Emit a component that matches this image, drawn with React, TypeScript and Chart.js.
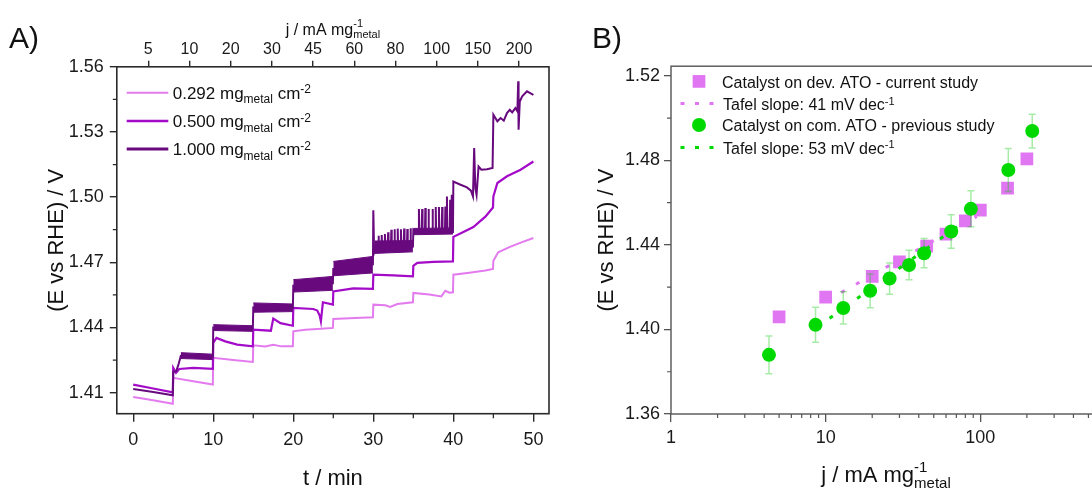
import React, { useEffect, useRef } from 'react';
import { Chart, registerables } from 'chart.js';

Chart.register(...registerables);

const FONT = '"Liberation Sans", Arial, Helvetica, sans-serif';

// ---------------- Panel A data ----------------
const loadings = ['0.292', '0.500', '1.000'];
const colorsA = ['#E37BEF', '#A40BC9', '#680A7E'];

const light292: [number, number][] = [
  [0, 1.4080], [2.5, 1.4065], [4.95, 1.4049],
  [5, 1.4168], [7.5, 1.4152], [9.95, 1.4137],
  [10, 1.4260], [12.5, 1.4250], [14.95, 1.4241],
  [15, 1.4318], [16.5, 1.4312], [17.5, 1.4320], [18.5, 1.4313], [19.95, 1.4313],
  [20, 1.4382], [21.5, 1.4390], [23, 1.4393], [24.95, 1.4398],
  [25, 1.4439], [27, 1.4442], [28.5, 1.4445], [29.95, 1.4447],
  [30, 1.4505], [31.5, 1.4502], [32.1, 1.4494], [33, 1.4508], [34.95, 1.4516],
  [35, 1.4559], [37, 1.4552], [38.5, 1.4543], [39, 1.4569], [39.5, 1.4560], [39.95, 1.4562],
  [40, 1.4643], [42, 1.4652], [44, 1.4662], [44.95, 1.4669],
  [45, 1.4707], [45.6, 1.4746], [47, 1.4770], [48.5, 1.4792], [50, 1.4812],
];

const mid500: [number, number][] = [
  [0, 1.4137], [2.5, 1.4119], [4.95, 1.4101],
  [5, 1.4214], [5.35, 1.4191], [5.75, 1.4209], [7.5, 1.4214], [9.95, 1.4210],
  [10, 1.4329], [10.4, 1.4352], [11.5, 1.4336], [13, 1.4321], [14.95, 1.4313],
  [15, 1.4390], [17.2, 1.4385], [17.5, 1.4441], [18.4, 1.4420], [19.95, 1.4408],
  [20, 1.4490], [22.5, 1.4485], [23.0, 1.4478], [23.3, 1.4455], [23.45, 1.4428], [23.7, 1.4516], [24.95, 1.4505],
  [25, 1.4566], [27.5, 1.4580], [29.95, 1.4578],
  [30, 1.4643], [32.5, 1.4640], [34.95, 1.4635],
  [35, 1.4684], [35.5, 1.4697], [37.5, 1.4702], [39.95, 1.4704],
  [40, 1.4817], [41, 1.4835], [42.5, 1.4862], [44, 1.4910], [44.95, 1.4952],
  [45, 1.5003], [45.5, 1.5065], [46.7, 1.5096], [48.4, 1.5126], [50, 1.5164],
];

const dark1000: [number, number][] = [
  [0, 1.4117], [2.5, 1.4103], [4.95, 1.4088],
  [5, 1.4195], [5.4, 1.4200], [5.7, 1.4235], [5.95, 1.4270], [9.95, 1.4264],
  [10, 1.4400], [14.95, 1.4395],
  [15, 1.4492], [19.95, 1.4490],
  [20, 1.4592], [24.95, 1.4603],
  [25, 1.4670], [29.95, 1.4690],
  [30, 1.4939], [30.1, 1.4745], [30.3, 1.4770],
  [30.6, 1.4770], [30.65, 1.4822], [30.7, 1.4770],
  [31.0, 1.4770], [31.05, 1.4826], [31.1, 1.4770],
  [31.4, 1.4770], [31.45, 1.4830], [31.5, 1.4770],
  [31.8, 1.4770], [31.85, 1.4838], [31.9, 1.4770],
  [32.2, 1.4770], [32.25, 1.4850], [32.3, 1.4770],
  [32.6, 1.4770], [32.65, 1.4852], [32.7, 1.4770],
  [33.0, 1.4770], [33.05, 1.4855], [33.1, 1.4770],
  [33.4, 1.4770], [33.45, 1.4852], [33.5, 1.4770],
  [33.8, 1.4770], [33.85, 1.4856], [33.9, 1.4770],
  [34.2, 1.4770], [34.25, 1.4853], [34.3, 1.4770],
  [34.6, 1.4770], [34.65, 1.4857], [34.7, 1.4770],
  [34.95, 1.4772],
  [35, 1.4850], [35.3, 1.4840],
  [35.65, 1.4840], [35.7, 1.4945], [35.75, 1.4840],
  [36.05, 1.4840], [36.1, 1.4945], [36.15, 1.4840],
  [36.45, 1.4840], [36.5, 1.4950], [36.55, 1.4840],
  [36.85, 1.4840], [36.9, 1.4945], [36.95, 1.4840],
  [37.35, 1.4840], [37.4, 1.4945], [37.45, 1.4840],
  [37.75, 1.4840], [37.8, 1.4955], [37.85, 1.4840],
  [38.15, 1.4840], [38.2, 1.4955], [38.25, 1.4840],
  [38.55, 1.4840], [38.6, 1.4955], [38.65, 1.4840],
  [38.95, 1.4840], [39.0, 1.4957], [39.05, 1.4840],
  [39.15, 1.4840], [39.2, 1.5003], [39.25, 1.4840],
  [39.55, 1.4840], [39.6, 1.4988], [39.65, 1.4840],
  [39.75, 1.4840], [39.8, 1.5011], [39.85, 1.4840],
  [39.95, 1.4845],
  [40, 1.5072], [40.9, 1.5057], [41.7, 1.5045], [42.2, 1.5030], [42.45, 1.5003], [42.6, 1.5226],
  [42.75, 1.5040], [42.9, 1.5010], [43.15, 1.5141], [43.5, 1.5126], [44.2, 1.5128], [44.9, 1.5134],
  [45, 1.5379], [45.5, 1.5349], [45.9, 1.5364], [46.3, 1.5352], [46.7, 1.5387], [47.05, 1.5402],
  [47.35, 1.5390], [47.75, 1.5410], [48.0, 1.5395], [48.1, 1.5533], [48.15, 1.5310], [48.3, 1.5440],
  [48.6, 1.5464], [49.2, 1.5487], [49.6, 1.5479], [50, 1.5471],
];

// oscillation bands of the 1.000 mg sample: [t, upper edge, lower edge]
const dark1000Band: [number, number, number][][] = [
  [[5.95, 1.4284, 1.4257], [9.95, 1.4277, 1.4252]],
  [[10, 1.4413, 1.4386], [14.95, 1.4408, 1.4382]],
  [[15, 1.4513, 1.4470], [19.95, 1.4508, 1.4473]],
  [[20, 1.4620, 1.4563], [24.95, 1.4635, 1.4571]],
  [[25, 1.4704, 1.4638], [29.95, 1.4727, 1.4651]],
  [[30.15, 1.4798, 1.4741], [34.95, 1.4800, 1.4748]],
  [[35, 1.4856, 1.4827], [39.95, 1.4858, 1.4830]],
];

const yTicksA = [1.41, 1.44, 1.47, 1.5, 1.53, 1.56];
const yMinorA = [1.425, 1.455, 1.485, 1.515, 1.545];
const xTicksA = [0, 10, 20, 30, 40, 50];
const xMinorA = [5, 15, 25, 35, 45];
const topLabelsA = ['5', '10', '20', '30', '45', '60', '80', '100', '150', '200'];

// ---------------- Panel B data ----------------
const devJ = [5, 10, 20, 30, 45, 60, 80, 100, 150, 200];
const devE = [1.4060, 1.4153, 1.4251, 1.4320, 1.4395, 1.4451, 1.4514, 1.4565, 1.4669, 1.4807];
const comJ = [4.3, 8.6, 13.0, 19.4, 25.9, 34.6, 43.3, 64.8, 86.9, 151.7, 216.6];
const comE = [1.3880, 1.4022, 1.4102, 1.4183, 1.4241, 1.4305, 1.4361, 1.4464, 1.4571, 1.4755, 1.4939];
const comErr = [0.0089, 0.0083, 0.0076, 0.0080, 0.0074, 0.0070, 0.0069, 0.0079, 0.0085, 0.0102, 0.0080];
const tafelDevJ = [12.6, 95];
const tafelDevE = [1.4175, 1.4535];
const tafelComJ = [10.6, 76.4];
const tafelComE = [1.4053, 1.4504];

const yTicksB = [1.36, 1.4, 1.44, 1.48, 1.52];
const yMinorB = [1.38, 1.42, 1.46, 1.5];
const xTicksB = [1, 10, 100, 1000];
const xMinorB = [2, 3, 4, 5, 6, 7, 8, 9, 20, 30, 40, 50, 60, 70, 80, 90, 200, 300, 400, 500, 600, 700, 800, 900];

const PINK = '#E176F3';
const GREEN = '#00D900';

type Part = { t: string; kind?: 'sup' | 'sub' | 'stack'; t2?: string };

function drawRich(
  ctx: CanvasRenderingContext2D, parts: Part[], x: number, y: number,
  size: number, small: number, align: 'left' | 'center', supOff: number, subOff: number,
) {
  const widths = parts.map((p) => {
    if (!p.kind) { ctx.font = `${size}px ${FONT}`; return ctx.measureText(p.t).width; }
    ctx.font = `${small}px ${FONT}`;
    if (p.kind === 'stack') return Math.max(ctx.measureText(p.t).width, ctx.measureText(p.t2 || '').width);
    return ctx.measureText(p.t).width;
  });
  const total = widths.reduce((a, b) => a + b, 0);
  let cx = align === 'center' ? x - total / 2 : x;
  ctx.textAlign = 'left';
  ctx.textBaseline = 'alphabetic';
  parts.forEach((p, i) => {
    if (!p.kind) {
      ctx.font = `${size}px ${FONT}`;
      ctx.fillText(p.t, cx, y);
    } else {
      ctx.font = `${small}px ${FONT}`;
      if (p.kind === 'sup') ctx.fillText(p.t, cx, y - supOff);
      else if (p.kind === 'sub') ctx.fillText(p.t, cx, y + subOff);
      else { ctx.fillText(p.t, cx, y - supOff); ctx.fillText(p.t2 || '', cx, y + subOff); }
    }
    cx += widths[i];
  });
}

const toXY = (pts: [number, number][]) => pts.map(([x, y]) => ({ x, y }));

function bandData(which: 1 | 2) {
  const out: { x: number; y: number | null }[] = [];
  dark1000Band.forEach((seg, i) => {
    if (i > 0) out.push({ x: seg[0][0], y: null });
    seg.forEach((p) => out.push({ x: p[0], y: p[which] }));
  });
  return out;
}

const AX_A = '#2a2a2a';
const AX_B = '#555555';

const panelAPlugin = {
  id: 'panelA',
  afterDraw(chart: any) {
    const { ctx, chartArea: ca, scales } = chart;
    ctx.save();
    ctx.strokeStyle = AX_A;
    ctx.lineWidth = 1.6;
    ctx.strokeRect(ca.left, ca.top, ca.right - ca.left, ca.bottom - ca.top);
    ctx.lineWidth = 1.3;
    ctx.beginPath();
    yMinorA.forEach((v) => { const p = scales.y.getPixelForValue(v); ctx.moveTo(ca.left, p); ctx.lineTo(ca.left - 4, p); });
    xMinorA.forEach((v) => { const p = scales.x.getPixelForValue(v); ctx.moveTo(p, ca.bottom); ctx.lineTo(p, ca.bottom + 4.5); });
    ctx.stroke();

    // legend
    const rows = [92.7, 121, 149];
    const lw = [2, 2.4, 2.8];
    rows.forEach((ry, i) => {
      ctx.strokeStyle = colorsA[i];
      ctx.lineWidth = lw[i];
      ctx.beginPath();
      ctx.moveTo(126.7, ry);
      ctx.lineTo(168.3, ry);
      ctx.stroke();
      ctx.fillStyle = '#111';
      drawRich(ctx, [{ t: `${loadings[i]} mg` }, { t: 'metal', kind: 'sub' }, { t: ' cm' }, { t: '-2', kind: 'sup' }],
        172.7, ry + 6, 17, 12, 'left', 5.5, 4.5);
    });

    ctx.fillStyle = '#111';
    ctx.font = `30px ${FONT}`;
    ctx.textAlign = 'left';
    ctx.textBaseline = 'alphabetic';
    ctx.fillText('A)', 9, 48);

    ctx.font = `22px ${FONT}`;
    ctx.textAlign = 'center';
    ctx.fillText('t / min', (ca.left + ca.right) / 2, 485);

    ctx.save();
    ctx.translate(57, (ca.top + ca.bottom) / 2);
    ctx.rotate(-Math.PI / 2);
    ctx.textAlign = 'center';
    ctx.textBaseline = 'middle';
    ctx.font = `22px ${FONT}`;
    ctx.fillText('(E vs RHE) / V', 0, 0);
    ctx.restore();

    drawRich(ctx, [{ t: 'j / mA mg' }, { t: '-1', kind: 'stack', t2: 'metal' }],
      (ca.left + ca.right) / 2, 34.5, 16, 11, 'center', 7.5, 3);
    ctx.restore();
  },
};

const panelBPlugin = {
  id: 'panelB',
  beforeDatasetDraw(chart: any, args: any) {
    if (args.index !== 3) return;
    const { ctx, scales } = chart;
    ctx.save();
    ctx.strokeStyle = 'rgba(0,200,0,0.35)';
    ctx.lineWidth = 1.5;
    ctx.beginPath();
    comJ.forEach((j, i) => {
      const x = scales.x.getPixelForValue(j);
      const y1 = scales.y.getPixelForValue(comE[i] + comErr[i]);
      const y2 = scales.y.getPixelForValue(comE[i] - comErr[i]);
      ctx.moveTo(x, y1); ctx.lineTo(x, y2);
      ctx.moveTo(x - 3.5, y1); ctx.lineTo(x + 3.5, y1);
      ctx.moveTo(x - 3.5, y2); ctx.lineTo(x + 3.5, y2);
    });
    ctx.stroke();
    ctx.restore();
  },
  afterDraw(chart: any) {
    const { ctx, chartArea: ca, scales } = chart;
    ctx.save();
    ctx.strokeStyle = AX_B;
    ctx.lineWidth = 1.4;
    ctx.strokeRect(ca.left, ca.top, ca.right - ca.left, ca.bottom - ca.top);
    ctx.lineWidth = 1.2;
    ctx.beginPath();
    yMinorB.forEach((v) => { const p = scales.y.getPixelForValue(v); ctx.moveTo(ca.left, p); ctx.lineTo(ca.left - 4, p); });
    xMinorB.forEach((v) => { const p = scales.x.getPixelForValue(v); ctx.moveTo(p, ca.bottom); ctx.lineTo(p, ca.bottom + 4); });
    ctx.stroke();

    // legend
    ctx.fillStyle = PINK;
    const s = 12.7;
    ctx.fillRect(139 - s / 2, 81.4 - s / 2, s, s);
    ctx.fillStyle = GREEN;
    ctx.beginPath();
    ctx.arc(139, 125, 7, 0, Math.PI * 2);
    ctx.fill();
    ctx.lineWidth = 3;
    ctx.setLineDash([4, 10.5]);
    ctx.strokeStyle = PINK;
    ctx.beginPath(); ctx.moveTo(120.5, 103.5); ctx.lineTo(159, 103.5); ctx.stroke();
    ctx.strokeStyle = GREEN;
    ctx.beginPath(); ctx.moveTo(120.5, 147.6); ctx.lineTo(159, 147.6); ctx.stroke();
    ctx.setLineDash([]);

    ctx.fillStyle = '#111';
    drawRich(ctx, [{ t: 'Catalyst on dev. ATO - current study' }], 162, 87.5, 16, 11, 'left', 5.5, 4);
    drawRich(ctx, [{ t: 'Tafel slope: 41 mV dec' }, { t: '-1', kind: 'sup' }], 163, 110, 16, 11, 'left', 5.5, 4);
    drawRich(ctx, [{ t: 'Catalyst on com. ATO - previous study' }], 162, 131, 16, 11, 'left', 5.5, 4);
    drawRich(ctx, [{ t: 'Tafel slope: 53 mV dec' }, { t: '-1', kind: 'sup' }], 163, 153.5, 16, 11, 'left', 5.5, 4);

    ctx.font = `30px ${FONT}`;
    ctx.textAlign = 'left';
    ctx.textBaseline = 'alphabetic';
    ctx.fillText('B)', 32, 48);

    ctx.save();
    ctx.translate(47, (ca.top + ca.bottom) / 2);
    ctx.rotate(-Math.PI / 2);
    ctx.textAlign = 'center';
    ctx.textBaseline = 'middle';
    ctx.font = `22px ${FONT}`;
    ctx.fillText('(E vs RHE) / V', 0, 0);
    ctx.restore();

    drawRich(ctx, [{ t: 'j / mA mg' }, { t: '-1', kind: 'stack', t2: 'metal' }], 326, 481.5, 22, 15, 'center', 10, 6);
    ctx.restore();
  },
};

function tickFont(size: number) {
  return { family: FONT, size };
}

export default function App() {
  const refA = useRef<HTMLCanvasElement>(null);
  const refB = useRef<HTMLCanvasElement>(null);

  useEffect(() => {
    const gridA = (len: number) => ({ drawOnChartArea: false, drawTicks: true, tickLength: len, color: AX_A, lineWidth: 1.4 });
    const chartA = new Chart(refA.current as HTMLCanvasElement, {
      type: 'line',
      data: {
        datasets: [
          { data: toXY(light292), borderColor: colorsA[0], borderWidth: 2, pointRadius: 0, order: 5, xAxisID: 'x', yAxisID: 'y' },
          { data: toXY(mid500), borderColor: colorsA[1], borderWidth: 2.2, pointRadius: 0, order: 4, xAxisID: 'x', yAxisID: 'y' },
          { data: bandData(1), borderColor: colorsA[2], backgroundColor: colorsA[2], borderWidth: 1, pointRadius: 0, fill: '+1', order: 3, xAxisID: 'x', yAxisID: 'y' },
          { data: bandData(2), borderColor: colorsA[2], backgroundColor: colorsA[2], borderWidth: 1, pointRadius: 0, fill: false, order: 2, xAxisID: 'x', yAxisID: 'y' },
          { data: toXY(dark1000), borderColor: colorsA[2], borderWidth: 2, pointRadius: 0, order: 1, xAxisID: 'x', yAxisID: 'y' },
        ] as any,
      },
      options: {
        animation: false,
        responsive: false,
        devicePixelRatio: 1,
        events: [],
        layout: { padding: { left: 0, right: 11, top: 0, bottom: 0 } },
        plugins: { legend: { display: false }, tooltip: { enabled: false } },
        scales: {
          x: {
            type: 'linear', position: 'bottom', min: -2.05, max: 51.95,
            afterBuildTicks: (s: any) => { s.ticks = xTicksA.map((v) => ({ value: v })); },
            afterFit: (s: any) => { s.height = 489 - 413.7; },
            ticks: { font: tickFont(18), color: '#1a1a1a', padding: 8, maxRotation: 0, autoSkip: false, callback: (v: any) => String(v) },
            grid: gridA(8),
            border: { display: false },
          },
          x2: {
            type: 'linear', position: 'top', min: -0.765, max: 9.726,
            afterBuildTicks: (s: any) => { s.ticks = topLabelsA.map((_, i) => ({ value: i })); },
            afterFit: (s: any) => { s.height = 66.8; },
            ticks: { font: tickFont(16), color: '#1a1a1a', padding: 2, maxRotation: 0, autoSkip: false, callback: (v: any) => topLabelsA[v] },
            grid: gridA(6),
            border: { display: false },
          },
          y: {
            type: 'linear', position: 'left', min: 1.4003, max: 1.56,
            afterBuildTicks: (s: any) => { s.ticks = yTicksA.map((v) => ({ value: v })); },
            afterFit: (s: any) => { s.width = 116.8; },
            ticks: { font: tickFont(18), color: '#1a1a1a', padding: 6, autoSkip: false, callback: (v: any) => Number(v).toFixed(2) },
            grid: gridA(7),
            border: { display: false },
          },
        },
      } as any,
      plugins: [panelAPlugin],
    });

    const gridB = (len: number) => ({ drawOnChartArea: false, drawTicks: true, tickLength: len, color: AX_B, lineWidth: 1.3 });
    const chartB = new Chart(refB.current as HTMLCanvasElement, {
      type: 'scatter',
      data: {
        datasets: [
          { data: devJ.map((x, i) => ({ x, y: devE[i] })), pointStyle: 'rect', pointRadius: 9, backgroundColor: PINK, borderWidth: 0, order: 4 },
          { data: tafelDevJ.map((x, i) => ({ x, y: tafelDevE[i] })), showLine: true, pointRadius: 0, borderColor: PINK, borderWidth: 3, borderDash: [4, 13], order: 3 },
          { data: tafelComJ.map((x, i) => ({ x, y: tafelComE[i] })), showLine: true, pointRadius: 0, borderColor: GREEN, borderWidth: 3, borderDash: [4, 13], order: 2 },
          { data: comJ.map((x, i) => ({ x, y: comE[i] })), pointStyle: 'circle', pointRadius: 7, backgroundColor: GREEN, borderWidth: 0, order: 1 },
        ] as any,
      },
      options: {
        animation: false,
        responsive: false,
        devicePixelRatio: 1,
        events: [],
        layout: { padding: { left: 0, right: 10, top: 66.2, bottom: 0 } },
        plugins: { legend: { display: false }, tooltip: { enabled: false } },
        scales: {
          x: {
            type: 'logarithmic', position: 'bottom', min: 1, max: 1000,
            afterBuildTicks: (s: any) => { s.ticks = xTicksB.map((v) => ({ value: v })); },
            afterFit: (s: any) => { s.height = 75; },
            ticks: { font: tickFont(18), color: '#1a1a1a', padding: 5, maxRotation: 0, autoSkip: false, callback: (v: any) => String(v) },
            grid: gridB(8),
            border: { display: false },
          },
          y: {
            type: 'linear', position: 'left', min: 1.36, max: 1.5246,
            afterBuildTicks: (s: any) => { s.ticks = yTicksB.map((v) => ({ value: v })); },
            afterFit: (s: any) => { s.width = 111; },
            ticks: { font: tickFont(18), color: '#1a1a1a', padding: 4, autoSkip: false, callback: (v: any) => Number(v).toFixed(2) },
            grid: gridB(7),
            border: { display: false },
          },
        },
      } as any,
      plugins: [panelBPlugin],
    });

    return () => {
      chartA.destroy();
      chartB.destroy();
    };
  }, []);

  return (
    <div style={{ position: 'absolute', left: 0, top: 0, width: 1092, height: 489, overflow: 'hidden', background: '#fff' }}>
      <canvas ref={refA} width={560} height={489} style={{ position: 'absolute', left: 0, top: 0, width: 560, height: 489 }} />
      <canvas ref={refB} width={600} height={489} style={{ position: 'absolute', left: 560, top: 0, width: 600, height: 489 }} />
    </div>
  );
}
